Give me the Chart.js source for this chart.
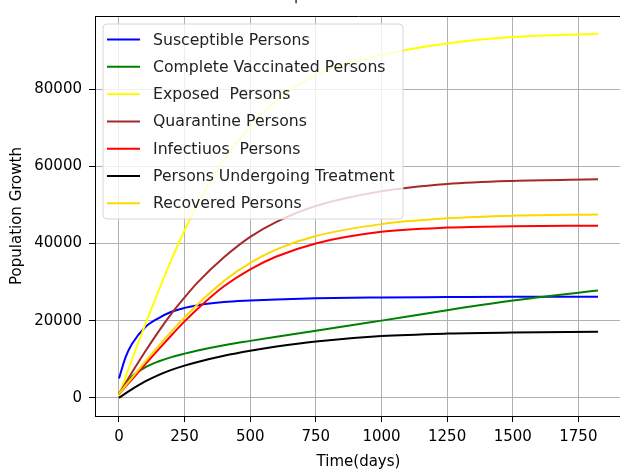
<!DOCTYPE html>
<html>
<head>
<meta charset="utf-8">
<script src="https://cdn.jsdelivr.net/npm/chart.js@4.4.1/dist/chart.umd.min.js"></script>
<style>
  html, body { margin: 0; padding: 0; background: #fff; }
  body { width: 620px; height: 472px; overflow: hidden; }
  #wrap { width: 640px; height: 472px; }
</style>
</head>
<body>
<div id="wrap"><canvas id="myChart" width="640" height="472"></canvas></div>
<script>
// time in days
const days = [0, 25, 50, 100, 150, 200, 250, 300, 400, 500, 600, 750, 1000, 1250, 1500, 1825];

const susceptible = [5000, 10500, 14000, 18300, 20600, 22300, 23300, 24000, 24800, 25200, 25500, 25800, 26000, 26100, 26200, 26200];
const vaccinated  = [1000, 3700, 5600, 7900, 9400, 10550, 11450, 12250, 13600, 14750, 15850, 17350, 20000, 22700, 25200, 27800];
const exposed     = [500, 5300, 10000, 19000, 27600, 35800, 43400, 50200, 61600, 70400, 77000, 83600, 88800, 91800, 93500, 94300];
const quarantine  = [1000, 3800, 6600, 12000, 17100, 21800, 26000, 29900, 36400, 41700, 45600, 49700, 53500, 55400, 56200, 56600];
const infectious  = [1000, 2900, 4800, 8700, 12500, 16200, 19800, 23100, 28900, 33300, 36600, 40000, 43000, 44100, 44450, 44600];
const treatment   = [0, 1150, 2250, 4250, 5900, 7250, 8350, 9300, 10900, 12200, 13300, 14600, 16000, 16650, 16950, 17100];
const recovered   = [1000, 3150, 5250, 9350, 13350, 17200, 20850, 24250, 30250, 34950, 38450, 41900, 45000, 46500, 47200, 47500];

const seriesNames = [
  "Susceptible Persons",
  "Complete Vaccinated Persons",
  "Exposed  Persons",
  "Quarantine Persons",
  "Infectiuos  Persons",
  "Persons Undergoing Treatment",
  "Recovered Persons",
];
const seriesValues = [susceptible, vaccinated, exposed, quarantine, infectious, treatment, recovered];
const seriesColors = ["#0000ff", "#008000", "#ffff00", "#a52a2a", "#ff0000", "#000000", "#ffd700"];

const xTicks = [0, 250, 500, 750, 1000, 1250, 1500, 1750];
const yTicks = [0, 20000, 40000, 60000, 80000];

Chart.defaults.font.family = "'DejaVu Sans', sans-serif";
Chart.defaults.font.size = 15;
Chart.defaults.color = "#000";

// legend drawn inside the axes, top-left, like matplotlib
const innerLegend = {
  id: "innerLegend",
  afterDatasetsDraw(chart) {
    const ctx = chart.ctx;
    const bx = 103, by = 24, bw = 300, bh = 195, r = 4;
    ctx.save();
    ctx.beginPath();
    ctx.moveTo(bx + r, by);
    ctx.arcTo(bx + bw, by, bx + bw, by + bh, r);
    ctx.arcTo(bx + bw, by + bh, bx, by + bh, r);
    ctx.arcTo(bx, by + bh, bx, by, r);
    ctx.arcTo(bx, by, bx + bw, by, r);
    ctx.closePath();
    ctx.fillStyle = "rgba(255,255,255,0.8)";
    ctx.fill();
    ctx.strokeStyle = "#d6d6d6";
    ctx.lineWidth = 1;
    ctx.stroke();

    ctx.font = "15.7px 'DejaVu Sans', sans-serif";
    ctx.textBaseline = "middle";
    ctx.textAlign = "left";
    chart.data.datasets.forEach((ds, i) => {
      const cy = 39.5 + i * 27.3;
      ctx.beginPath();
      ctx.moveTo(107, cy);
      ctx.lineTo(140, cy);
      ctx.strokeStyle = ds.borderColor;
      ctx.lineWidth = 2;
      ctx.stroke();
      ctx.fillStyle = "#222";
      ctx.fillText(ds.label, 153, cy + 1);
    });
    ctx.restore();
  },
};

// top/right spines and the small title mark
const frame = {
  id: "frame",
  afterDraw(chart) {
    const { ctx, chartArea } = chart;
    ctx.save();
    ctx.strokeStyle = "#000";
    ctx.lineWidth = 1;
    ctx.beginPath();
    ctx.moveTo(chartArea.left, chartArea.top + 0.5);
    ctx.lineTo(chartArea.right, chartArea.top + 0.5);
    ctx.lineTo(chartArea.right, chartArea.bottom);
    ctx.stroke();
    ctx.fillStyle = "#000";
    ctx.font = "15px 'DejaVu Sans', sans-serif";
    ctx.textAlign = "center";
    ctx.textBaseline = "top";
    ctx.fillText("'", 296, 0);
    ctx.restore();
  },
};

const ctx = document.getElementById("myChart").getContext("2d");
const myChart = new Chart(ctx, {
  type: "line",
  data: {
    datasets: seriesNames.map((name, i) => ({
      label: name,
      data: days.map((d, j) => ({ x: d, y: seriesValues[i][j] })),
      borderColor: seriesColors[i],
      backgroundColor: seriesColors[i],
      borderWidth: 2,
      pointRadius: 0,
      fill: false,
      cubicInterpolationMode: "monotone",
      order: seriesNames.length - i,
    })),
  },
  plugins: [innerLegend, frame],
  options: {
    responsive: false,
    animation: false,
    devicePixelRatio: 1,
    layout: { padding: { left: 0, top: 15, right: 18, bottom: 0 } },
    plugins: {
      legend: { display: false },
      tooltip: { enabled: false },
    },
    scales: {
      x: {
        type: "linear",
        min: -91.25,
        max: 1916.25,
        afterBuildTicks: (scale) => {
          scale.ticks = xTicks.map((v) => ({ value: v }));
        },
        afterFit: (scale) => {
          scale.height = 56;
        },
        ticks: { padding: 6, maxRotation: 0, callback: (v) => String(v) },
        grid: { color: "#b0b0b0", tickColor: "#000", tickLength: 6 },
        border: { display: true, color: "#000", width: 1 },
        title: { display: true, text: "Time(days)", padding: { top: 0, bottom: 1 } },
      },
      y: {
        type: "linear",
        min: -4710,
        max: 98920,
        afterBuildTicks: (scale) => {
          scale.ticks = yTicks.map((v) => ({ value: v }));
        },
        afterFit: (scale) => {
          scale.width = 95;
        },
        ticks: { padding: 7, callback: (v) => String(v) },
        grid: { color: "#b0b0b0", tickColor: "#000", tickLength: 6 },
        border: { display: true, color: "#000", width: 1 },
        title: { display: true, text: "Population Growth", padding: { top: 8, bottom: 0 } },
      },
    },
  },
});
</script>
</body>
</html>
